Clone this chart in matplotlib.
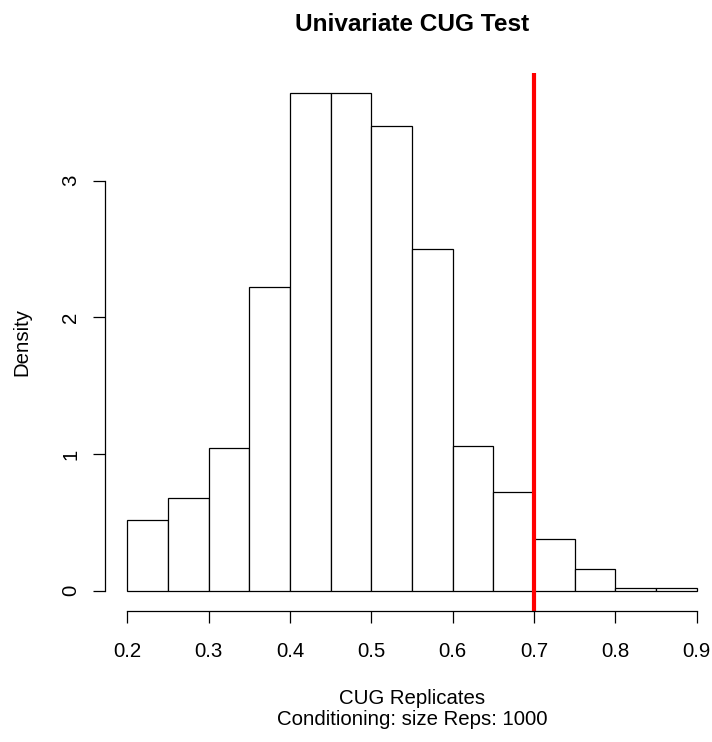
import matplotlib
matplotlib.use('Agg')
import matplotlib.pyplot as plt
import numpy as np

plt.rcParams['font.family'] = ['Liberation Sans', 'DejaVu Sans']

# histogram of CUG replicates (bin counts out of 1000 reps)
bin_edges = [0.20, 0.25, 0.30, 0.35, 0.40, 0.45, 0.50, 0.55,
             0.60, 0.65, 0.70, 0.75, 0.80, 0.85, 0.90]
counts = [26, 34, 52, 111, 182, 182, 170, 125, 53, 36, 19, 8, 1, 1]
reps = 1000
obs_value = 0.7  # observed statistic (red line)

x_ticks = [0.2, 0.3, 0.4, 0.5, 0.6, 0.7, 0.8, 0.9]
y_ticks = [0, 1, 2, 3]

edges = np.array(bin_edges)
widths = np.diff(edges)
density = np.array(counts) / (reps * widths)

W, H = 712, 742
fig = plt.figure(figsize=(W / 100, H / 100), dpi=100)
# plot region in pixels (R style)
left, right, top, bottom = 104.5, 719.6, 73.3, 610.5
ax = fig.add_axes([left / W, (H - bottom) / H, (right - left) / W, (bottom - top) / H])

ax.bar(edges[:-1], density, width=widths, align='edge',
       color='white', edgecolor='black', linewidth=0.9)
ax.axvline(obs_value, color='red', linewidth=3)

# R-like axis limits (4% extension)
xr = edges[-1] - edges[0]
ax.set_xlim(edges[0] - 0.04 * xr, edges[-1] + 0.04 * xr)
ymax = density.max()
ax.set_ylim(-0.04 * ymax, ymax * 1.04)

for s in ['top', 'right']:
    ax.spines[s].set_visible(False)
ax.spines['left'].set_bounds(y_ticks[0], y_ticks[-1])
ax.spines['bottom'].set_bounds(x_ticks[0], x_ticks[-1])
ax.spines['left'].set_linewidth(0.9)
ax.spines['bottom'].set_linewidth(0.9)

fs = 14.7
ax.set_xticks(x_ticks)
ax.set_xticklabels([f'{v:.1f}' for v in x_ticks])
ax.set_yticks(y_ticks)
ax.set_yticklabels([str(v) for v in y_ticks])
ax.tick_params(direction='out', length=8.6, width=0.9, labelsize=fs, colors='black')
ax.tick_params(axis='x', pad=14)
ax.tick_params(axis='y', pad=9)
for lab in ax.get_yticklabels():
    lab.set_rotation(90)
    lab.set_va('center')
    lab.set_ha('right')

cx = (left + right) / 2 / W
fig.text(cx, 1 - 31 / H, 'Univariate CUG Test', ha='center', va='baseline',
         fontsize=17.6, fontweight='bold')
fig.text(cx, 1 - 704 / H, 'CUG Replicates', ha='center', va='baseline', fontsize=fs)
fig.text(cx, 1 - 725 / H, 'Conditioning: size Reps: 1000', ha='center', va='baseline', fontsize=fs)
fig.text(31 / W, 1 - ((top + bottom) / 2) / H, 'Density', rotation=90,
         ha='right', va='center', fontsize=fs)

fig.savefig('out.png', dpi=100)
